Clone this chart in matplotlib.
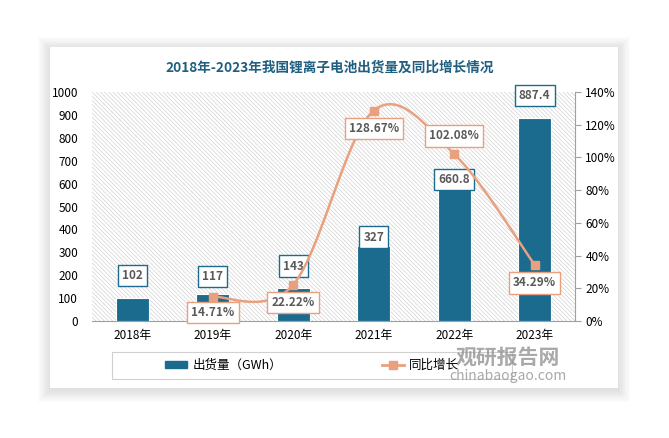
import matplotlib.pyplot as plt
import matplotlib.patches as mpatches
from matplotlib.lines import Line2D
import numpy as np

plt.rcParams['font.family'] = ['Noto Sans CJK SC', 'DejaVu Sans']
plt.rcParams['hatch.color'] = '#d2d2d2'
plt.rcParams['hatch.linewidth'] = 0.5

## donnees
annees = ['2018年', '2019年', '2020年', '2021年', '2022年', '2023年']
chuhuo = [102, 117, 143, 327, 660.8, 887.4]
tongbi = [None, 14.71, 22.22, 128.67, 102.08, 34.29]
titre = '2018年-2023年我国锂离子电池出货量及同比增长情况'

bleu = '#1b6b8f'
saumon = '#e9a07f'
gris_txt = '#595959'

fig = plt.figure(figsize=(6.69, 4.38), dpi=100)

# carte blanche avec ombre douce
for k in range(10):
    d = (10 - k) * 1.2
    fig.patches.append(mpatches.Rectangle(((50 - d) / 669, 1 - (388 + d + 2) / 438), (568 + 2*d) / 669, (341 + 2*d) / 438,
                                          transform=fig.transFigure, facecolor='black',
                                          alpha=0.01, edgecolor='none', zorder=0))
fig.patches.append(mpatches.Rectangle((50/669, 1 - 388/438), 568/669, 341/438,
                                      transform=fig.transFigure, facecolor='white',
                                      edgecolor='none', zorder=1))

ax = fig.add_axes([92/669, 1 - 321/438, 483/669, 229/438])
ax.set_zorder(2)
ax.patch.set_facecolor('white')
ax.patch.set_hatch('\\\\\\\\\\\\\\\\')
ax.patch.set_edgecolor('#d2d2d2')
ax.patch.set_linewidth(0)

x = np.arange(len(annees))
ax.bar(x, chuhuo, width=0.41, color=bleu, edgecolor='white', linewidth=0.8, zorder=3)
ax.set_ylim(0, 1000)
ax.set_xlim(-0.5, len(annees) - 0.5)
ax.set_yticks(range(0, 1001, 100))
ax.set_xticks(x)
ax.set_xticklabels(annees)
ax.tick_params(axis='both', labelsize=8.5, colors='black', length=0)
ax.tick_params(axis='y', pad=10)
ax.tick_params(axis='x', pad=6)
for s in ['top', 'left', 'right']:
    ax.spines[s].set_visible(False)
ax.spines['bottom'].set_color('#a0a0a0')

decal_barre = [16, 13, 16, 6.5, -7, 16]
for i, v in enumerate(chuhuo):
    ax.annotate('%g' % v, (i, v), xytext=(0, decal_barre[i]), textcoords='offset points',
                ha='center', va='center', fontsize=8.5, fontweight='bold', color=gris_txt, zorder=6,
                bbox=dict(boxstyle='square,pad=0.35', facecolor='white', edgecolor=bleu, linewidth=1))

# courbe lissee (catmull-rom)
ax2 = ax.twinx()
ax2.set_ylim(0, 140)
ax2.set_yticks(range(0, 141, 20))
ax2.set_yticklabels(['%d%%' % t for t in range(0, 141, 20)])
ax2.tick_params(axis='y', labelsize=8.5, labelcolor='black', color='#a0a0a0', length=4, direction='out')
for s in ['top', 'left', 'bottom']:
    ax2.spines[s].set_visible(False)
ax2.spines['right'].set_color('#a0a0a0')

px = [i for i, t in enumerate(tongbi) if t is not None]
py = [t for t in tongbi if t is not None]
P = np.array(list(zip(px, py)), dtype=float)
P = np.vstack([P[0], P, P[-1]])
cx, cy = [], []
for k in range(1, len(P) - 2):
    p0, p1, p2, p3 = P[k-1], P[k], P[k+1], P[k+2]
    for t in np.linspace(0, 1, 30):
        c = 0.5 * ((2*p1) + (-p0 + p2)*t + (2*p0 - 5*p1 + 4*p2 - p3)*t**2 + (-p0 + 3*p1 - 3*p2 + p3)*t**3)
        cx.append(c[0]); cy.append(c[1])
ax2.plot(cx, cy, color=saumon, linewidth=1.8, zorder=4)
ax2.plot(px, py, 's', color=saumon, markersize=6, zorder=5)

decal = {1: (0, -11), 2: (0, -13), 3: (0, -13), 4: (0, 13), 5: (0, -13)}
for i, t in zip(px, py):
    ax2.annotate('%.2f%%' % t, (i, t), xytext=decal[i], textcoords='offset points',
                 ha='center', va='center', fontsize=8.5, fontweight='bold', color=gris_txt, zorder=7,
                 bbox=dict(boxstyle='square,pad=0.35', facecolor='white', edgecolor=saumon, linewidth=1))

fig.text(330/669, 1 - 68/438, titre, ha='center', va='center', fontsize=9.8,
         fontweight='bold', color='#1f5f80', zorder=3)

# legende
fig.patches.append(mpatches.Rectangle((112/669, 1 - 379/438), 400/669, 27/438,
                                      transform=fig.transFigure, facecolor='none',
                                      edgecolor='#d0d0d0', linewidth=0.8, zorder=3))
h1 = mpatches.Patch(color=bleu, label='出货量（GWh）')
h2 = Line2D([], [], color=saumon, marker='s', markersize=6, linewidth=2, label='同比增长')
leg = fig.legend(handles=[h1, h2], loc='center', bbox_to_anchor=(312/669, 1 - 365/438), ncol=2,
                 frameon=False, fontsize=9, columnspacing=8, handlelength=1.8, handleheight=0.5,
                 handletextpad=0.4)

# filigrane
fig.text(508/669, 1 - 357/438, '观研报告网', ha='center', va='center', fontsize=15,
         fontweight='bold', color='#8c8c8c', alpha=0.75, zorder=5)
fig.text(508/669, 1 - 376/438, 'chinabaogao.com', ha='center', va='center', fontsize=10,
         color='#8c8c8c', alpha=0.75, zorder=5)

fig.savefig('out.png', dpi=100)
